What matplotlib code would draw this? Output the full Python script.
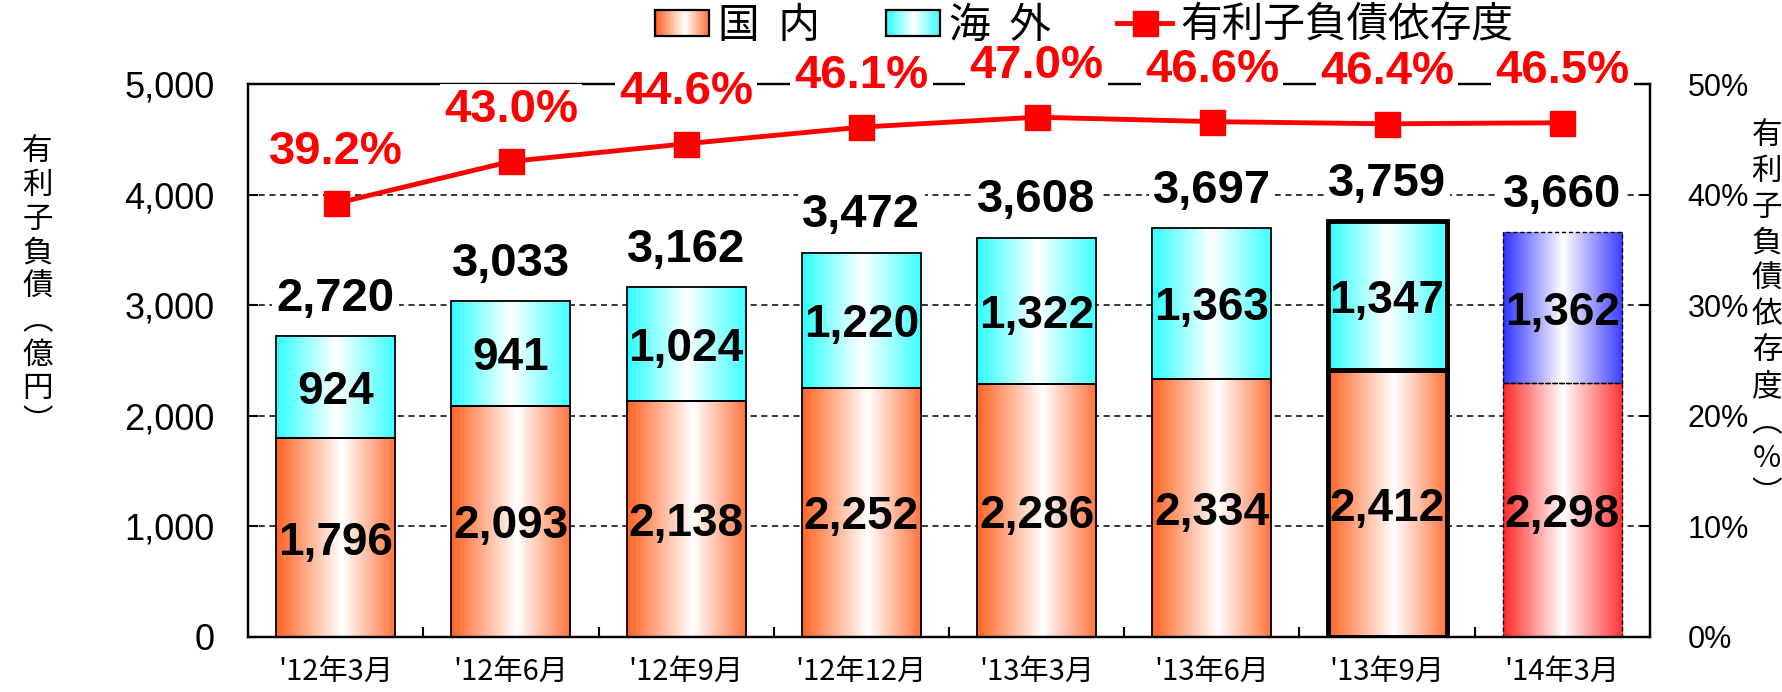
import numpy as np
import matplotlib
matplotlib.use("Agg")
import matplotlib.pyplot as plt
from matplotlib.patches import Rectangle
from matplotlib.lines import Line2D
from matplotlib.legend_handler import HandlerBase
from matplotlib import font_manager as fm

# ---------------- data ----------------
categories = ["'12年3月", "'12年6月", "'12年9月", "'12年12月",
              "'13年3月", "'13年6月", "'13年9月", "'14年3月"]
domestic = [1796, 2093, 2138, 2252, 2286, 2334, 2412, 2298]
overseas = [924, 941, 1024, 1220, 1322, 1363, 1347, 1362]
totals = [2720, 3033, 3162, 3472, 3608, 3697, 3759, 3660]
ratio = [39.2, 43.0, 44.6, 46.1, 47.0, 46.6, 46.4, 46.5]
left_ticks = [0, 1000, 2000, 3000, 4000, 5000]
right_ticks = [0, 10, 20, 30, 40, 50]

# ---------------- styles ----------------
HIGHLIGHT = 6      # thick border bar
FORECAST = 7       # dashed / red-blue bar
names = {f.name for f in fm.fontManager.ttflist}
NUM = ['Liberation Sans', 'Noto Sans CJK JP', 'DejaVu Sans']
PCT = ['Liberation Sans Narrow' if 'Liberation Sans Narrow' in names else 'Liberation Sans',
       'DejaVu Sans']
JP = ['Noto Sans CJK JP', 'DejaVu Sans']
plt.rcParams['font.family'] = NUM

C_DOM = [(0.0, (255, 100, 35)), (0.55, (255, 255, 255)), (1.0, (255, 115, 60))]
C_OVS = [(0.0, (45, 255, 255)), (0.5, (255, 255, 255)), (1.0, (60, 255, 255))]
C_RED = [(0.0, (255, 40, 40)), (0.5, (255, 255, 255)), (1.0, (255, 50, 50))]
C_BLU = [(0.0, (50, 50, 255)), (0.5, (255, 255, 255)), (1.0, (60, 60, 255))]


def grad_colors(stops, n):
    t = np.linspace(0, 1, n)
    pos = [s[0] for s in stops]
    out = np.zeros((n, 3))
    for k in range(3):
        out[:, k] = np.interp(t, pos, [s[1][k] for s in stops]) / 255.0
    return out


def fill_gradient(ax, patch, stops):
    x0, y0 = patch.get_x(), patch.get_y()
    w, h = patch.get_width(), patch.get_height()
    img = grad_colors(stops, 256)[None, :, :]
    ax.imshow(img, extent=(x0, x0 + w, y0, y0 + h), aspect='auto',
              interpolation='bilinear', zorder=1)


class GradHandler(HandlerBase):
    def __init__(self, stops):
        super().__init__()
        self.stops = stops

    def create_artists(self, legend, orig_handle, xdescent, ydescent,
                       width, height, fontsize, trans):
        n = 40
        cols = grad_colors(self.stops, n)
        h = fontsize * 0.62
        y0 = -ydescent + (height - h) / 2
        arts = []
        for i in range(n):
            arts.append(Rectangle((-xdescent + width * i / n, y0), width / n * 1.05, h,
                                  facecolor=cols[i], edgecolor='none', transform=trans))
        arts.append(Rectangle((-xdescent, y0), width, h, facecolor='none',
                              edgecolor='black', lw=1.6, transform=trans))
        return arts


# ---------------- figure ----------------
fig = plt.figure(figsize=(17.83, 6.92), dpi=100)
ax = fig.add_axes([0.1391, 0.0795, 0.7863, 0.7991])
x = np.arange(len(categories))
bw = 0.68

bars_dom = ax.bar(x, domestic, width=bw, facecolor='none', edgecolor='black', lw=1.3, zorder=2)
bars_ovs = ax.bar(x, overseas, width=bw, bottom=domestic, facecolor='none',
                  edgecolor='black', lw=1.3, zorder=2)

for i, (pd_, po) in enumerate(zip(bars_dom.patches, bars_ovs.patches)):
    if i == FORECAST:
        fill_gradient(ax, pd_, C_RED)
        fill_gradient(ax, po, C_BLU)
        for p in (pd_, po):
            p.set_linestyle((0, (3, 2)))
            p.set_linewidth(1.0)
    else:
        fill_gradient(ax, pd_, C_DOM)
        fill_gradient(ax, po, C_OVS)
    if i == HIGHLIGHT:
        for p in (pd_, po):
            p.set_linewidth(3.5)

ax.set_xlim(-0.5, len(categories) - 0.5)
ax.set_ylim(0, 5000)
ax.set_yticks(left_ticks)
ax.set_yticklabels([f"{v:,}" for v in left_ticks])
ax.tick_params(axis='y', direction='in', length=7, width=1.5, labelsize=26, pad=24)
ax.set_xticks(np.arange(-0.5, len(categories) + 0.5, 1))
ax.set_xticklabels([])
ax.tick_params(axis='x', which='major', direction='in', length=7, width=1.5)
ax.set_xticks(x, minor=True)
ax.set_xticklabels(categories, minor=True, fontfamily=JP, fontsize=21)
ax.tick_params(axis='x', which='minor', length=0, pad=14)
ax.yaxis.grid(True, linestyle=(0, (4, 3)), color='black', lw=1.1)
ax.set_axisbelow(True)
for s in ax.spines.values():
    s.set_linewidth(1.6)

# segment labels
for xi, d, o in zip(x, domestic, overseas):
    ax.text(xi, d / 2, f"{d:,}", ha='center', va='center_baseline', fontsize=33,
            fontweight='bold', zorder=5)
    ax.text(xi, d + o / 2, f"{o:,}", ha='center', va='center_baseline', fontsize=33,
            fontweight='bold', zorder=5)
# totals
for xi, d, o, t in zip(x, domestic, overseas, totals):
    ax.annotate(f"{t:,}", (xi, d + o), xytext=(0, 27), textcoords='offset points',
                ha='center', va='center', fontsize=34, fontweight='bold', zorder=5,
                bbox=dict(facecolor='white', edgecolor='none', pad=3))

# ratio line
ax2 = ax.twinx()
line, = ax2.plot(x, ratio, color='red', lw=3.5, marker='s', ms=18, zorder=3)
ax2.set_ylim(0, 50)
ax2.set_yticks(right_ticks)
ax2.set_yticklabels([f"{v}%" for v in right_ticks])
ax2.tick_params(axis='y', direction='in', length=7, width=1.5, labelsize=22, pad=27)
for s in ax2.spines.values():
    s.set_linewidth(1.6)
for xi, r in zip(x, ratio):
    ax2.annotate(f"{r:.1f}%", (xi, r), xytext=(0, 37), textcoords='offset points',
                 ha='center', va='center', color='red', fontsize=34, fontweight='bold',
                 fontfamily=PCT, zorder=6, annotation_clip=False,
                 bbox=dict(facecolor='white', edgecolor='none', pad=3))

# axis titles (vertical writing)
fig.text(0.021, 0.585, "\n".join(list("有利子負債")) + "\n︵\n億\n円\n︶",
         ha='center', va='center', fontsize=22, fontfamily=JP, linespacing=1.12)
fig.text(0.991, 0.545, "\n".join(list("有利子負債依存度")) + "\n︵\n%\n︶",
         ha='center', va='center', fontsize=22, fontfamily=JP, linespacing=1.2)

# legend
leg_line = Line2D([], [], color='red', lw=3.5, marker='s', ms=18)
fig.legend([bars_dom, bars_ovs, leg_line], ["国  内", "海  外", "有利子負債依存度"],
           handler_map={bars_dom: GradHandler(C_DOM), bars_ovs: GradHandler(C_OVS)},
           loc='center', bbox_to_anchor=(0.608, 0.962), ncol=3, frameon=False,
           prop={'family': JP, 'size': 30}, handlelength=1.3, handletextpad=0.2,
           columnspacing=1.6, borderaxespad=0)

fig.savefig("out.png", dpi=100)
